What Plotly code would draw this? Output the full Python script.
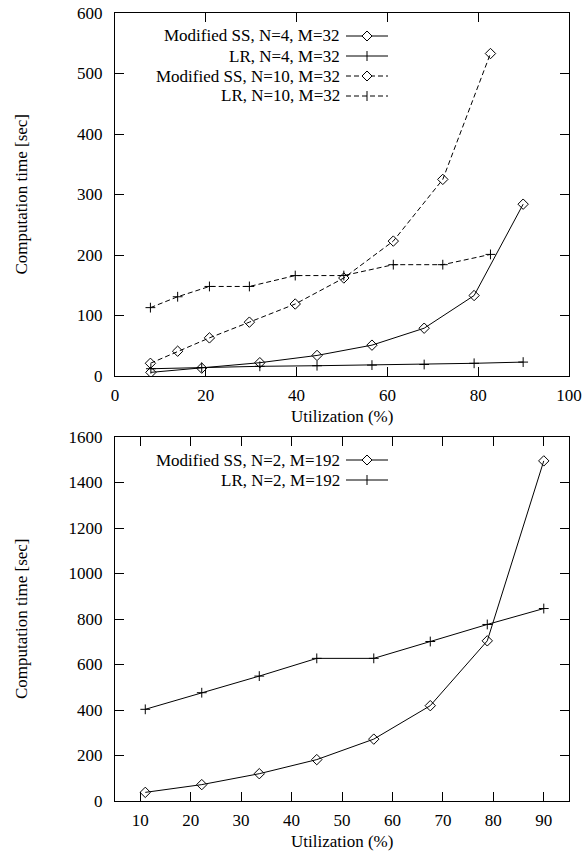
import plotly.graph_objects as go

# ---------------- data ----------------
# Top panel (M=32)
ss4_x = [7.9, 19.1, 31.9, 44.5, 56.6, 68.1, 79.1, 89.9]
ss4_y = [6, 13, 22, 34, 51, 79, 133, 284]
lr4_x = [7.9, 19.1, 31.9, 44.5, 56.6, 68.1, 79.1, 89.9]
lr4_y = [12, 14, 16, 17, 18, 19, 21, 23]
ss10_x = [7.8, 13.8, 20.8, 29.6, 39.7, 50.4, 61.3, 72.2, 82.7]
ss10_y = [21, 41, 63, 89, 119, 162, 223, 325, 533]
lr10_x = [7.8, 13.8, 20.8, 29.6, 39.7, 50.4, 61.3, 72.2, 82.7]
lr10_y = [113, 131, 148, 148, 166, 166, 184, 184, 201]

# Bottom panel (N=2, M=192)
ss2_x = [11.0, 22.2, 33.6, 45.0, 56.3, 67.5, 78.8, 90.0]
ss2_y = [38, 72, 120, 182, 272, 419, 704, 1495]
lr2_x = [11.0, 22.2, 33.6, 45.0, 56.3, 67.5, 78.8, 90.0]
lr2_y = [403, 476, 549, 627, 627, 701, 776, 846]

top_xticks = [0, 20, 40, 60, 80, 100]
top_yticks = [0, 100, 200, 300, 400, 500, 600]
bot_xticks = [10, 20, 30, 40, 50, 60, 70, 80, 90]
bot_yticks = [0, 200, 400, 600, 800, 1000, 1200, 1400, 1600]

top_names = ["Modified SS, N=4, M=32", "LR, N=4, M=32",
             "Modified SS, N=10, M=32", "LR, N=10, M=32"]
bot_names = ["Modified SS, N=2, M=192", "LR, N=2, M=192"]

x_title = "Utilization (%)"
y_title = "Computation time [sec]"

# ---------------- layout geometry (page pixels) ----------------
W, H = 586, 852
L, R, T, B = 115, 569, 13, 801
FONT = "Liberation Serif, Times New Roman, serif"
FS = 17
DASH = "5px,3px"


def px2x(px):
    return (px - L) / (R - L)


def py2y(py):
    return (B - py) / (B - T)


fig = go.Figure()

styles = {
    "ss": dict(symbol="diamond-open", size=8),
    "lr": dict(symbol="cross-thin-open", size=7),
}


def add(x, y, kind, dash, xa, ya):
    fig.add_trace(go.Scatter(
        x=x, y=y, mode="lines+markers", xaxis=xa, yaxis=ya, showlegend=False,
        line=dict(color="black", width=1, dash=dash),
        marker=dict(color="black", line=dict(color="black", width=1), **styles[kind]),
    ))


add(ss4_x, ss4_y, "ss", "solid", "x", "y")
add(lr4_x, lr4_y, "lr", "solid", "x", "y")
add(ss10_x, ss10_y, "ss", DASH, "x", "y")
add(lr10_x, lr10_y, "lr", DASH, "x", "y")
add(ss2_x, ss2_y, "ss", "solid", "x2", "y2")
add(lr2_x, lr2_y, "lr", "solid", "x2", "y2")

ax_common = dict(
    showline=True, linecolor="black", linewidth=1, mirror="ticks",
    ticks="inside", ticklen=9, tickcolor="black", tickwidth=1,
    showgrid=False, zeroline=False, automargin=False,
    tickfont=dict(family=FONT, size=FS, color="black"),
)
xax = dict(ticklabelstandoff=4, **ax_common)
yax = dict(ticklabelstandoff=8, **ax_common)

top_dom = [py2y(376), 1.0]
bot_dom = [0.0, py2y(437)]

fig.update_layout(
    width=W, height=H,
    margin=dict(l=L, r=W - R, t=T, b=H - B, pad=0, autoexpand=False),
    paper_bgcolor="white", plot_bgcolor="white",
    showlegend=False,
    font=dict(family=FONT, size=FS, color="black"),
    xaxis=dict(domain=[0, 1], anchor="y", range=[0, 100], tickvals=top_xticks, **xax),
    yaxis=dict(domain=top_dom, anchor="x", range=[0, 600], tickvals=top_yticks, **yax),
    xaxis2=dict(domain=[0, 1], anchor="y2", range=[5, 95], tickvals=bot_xticks, **xax),
    yaxis2=dict(domain=bot_dom, anchor="x2", range=[0, 1600], tickvals=bot_yticks, **yax),
)

annotations = []
shapes = []

# axis titles
for (cy_px, xt_py) in [((13 + 376) / 2, 416), ((437 + 801) / 2, 841)]:
    annotations.append(dict(
        text=y_title, xref="paper", yref="paper", x=px2x(21), y=py2y(cy_px),
        textangle=-90, showarrow=False, xanchor="center", yanchor="middle",
        font=dict(family=FONT, size=FS, color="black")))
    annotations.append(dict(
        text=x_title, xref="paper", yref="paper", x=px2x((L + R) / 2), y=py2y(xt_py),
        showarrow=False, xanchor="center", yanchor="middle",
        font=dict(family=FONT, size=FS, color="black")))

# custom gnuplot-style legends (text right-aligned, sample on the right)
TXT_R, LN0, LN1, MK = 342, 346, 388, 367
top_rows = [36, 56, 76, 96]
bot_rows = [460, 480]
top_kinds = [("ss", "solid"), ("lr", "solid"), ("ss", DASH), ("lr", DASH)]
bot_kinds = [("ss", "solid"), ("lr", "solid")]


def legend_item(name, kind, dash, row_py):
    annotations.append(dict(
        text=name, xref="paper", yref="paper", x=px2x(TXT_R), y=py2y(row_py),
        showarrow=False, xanchor="right", yanchor="middle",
        font=dict(family=FONT, size=FS, color="black")))
    shapes.append(dict(type="line", xref="paper", yref="paper",
                       x0=px2x(LN0), x1=px2x(LN1), y0=py2y(row_py), y1=py2y(row_py),
                       line=dict(color="black", width=1, dash=dash)))
    r = 5
    if kind == "ss":
        path = (f"M {px2x(MK - r)} {py2y(row_py)} L {px2x(MK)} {py2y(row_py - r)} "
                f"L {px2x(MK + r)} {py2y(row_py)} L {px2x(MK)} {py2y(row_py + r)} Z")
        shapes.append(dict(type="path", xref="paper", yref="paper", path=path,
                           fillcolor="white", line=dict(color="black", width=1)))
    else:
        shapes.append(dict(type="line", xref="paper", yref="paper",
                           x0=px2x(MK), x1=px2x(MK), y0=py2y(row_py - r), y1=py2y(row_py + r),
                           line=dict(color="black", width=1)))


for n, (k, d), ry in zip(top_names, top_kinds, top_rows):
    legend_item(n, k, d, ry)
for n, (k, d), ry in zip(bot_names, bot_kinds, bot_rows):
    legend_item(n, k, d, ry)

fig.update_layout(annotations=annotations, shapes=shapes)

# remove the browser's default 8px body margin so the page matches pixel-for-pixel
fig.write_html("out.html", config={"displayModeBar": False},
               post_script="document.body.style.margin='0';")
